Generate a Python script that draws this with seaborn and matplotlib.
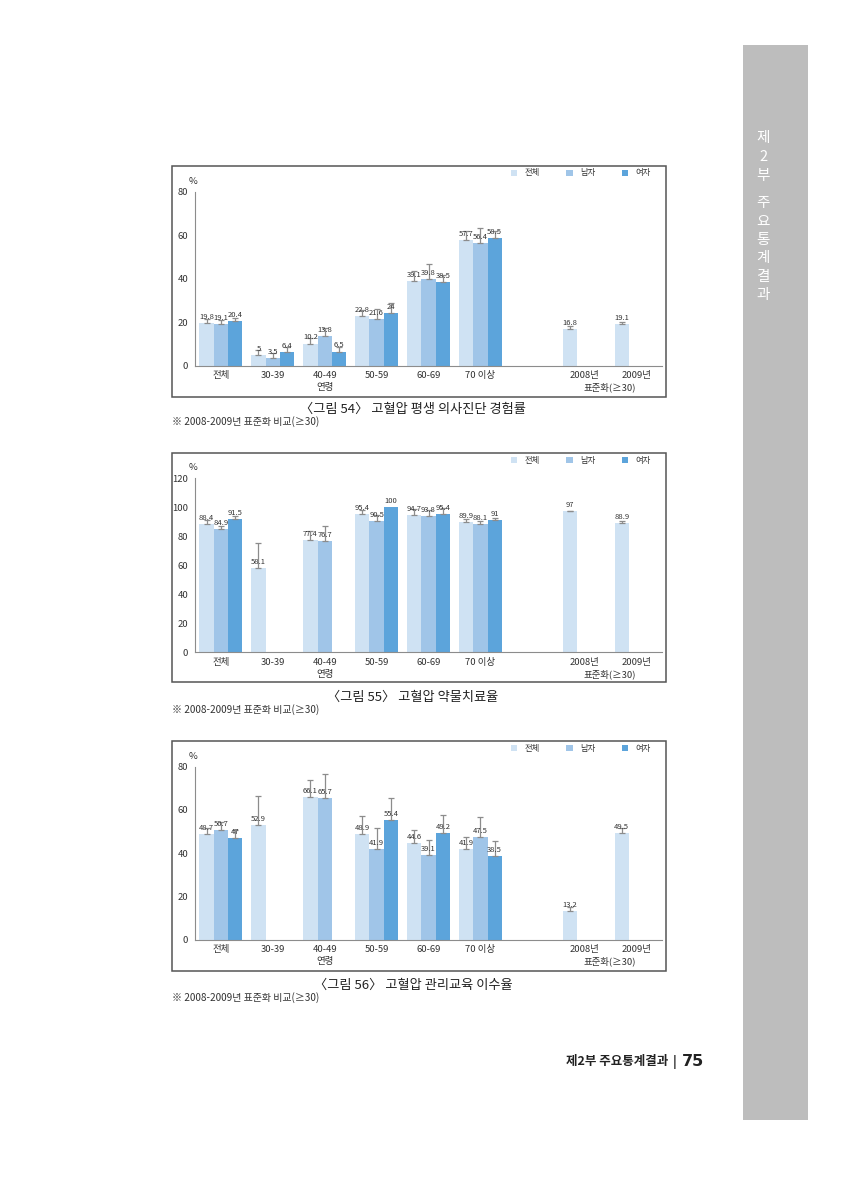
import numpy as np
import pandas as pd
import matplotlib
matplotlib.use("Agg")
import matplotlib.pyplot as plt
import seaborn as sns
from matplotlib.patches import Rectangle

sns.set_theme(style="white")
plt.rcParams["font.family"] = ["Noto Sans CJK KR", "DejaVu Sans"]

# ---------------- data ----------------
groups = ["전체", "30-39", "40-49", "50-59", "60-69", "70 이상", " ", "2008년", "2009년"]
sexes = ["전체", "남자", "여자"]
palette = ["#CFE2F3", "#A0C5E8", "#5CA4DB"]

# 그림 54 고혈압 평생 의사진단 경험률
c54_total = [19.8, 5.0, 10.2, 22.8, 39.1, 57.7, np.nan, 16.8, 19.1]
c54_male = [19.1, 3.5, 13.8, 21.6, 39.8, 56.4, np.nan, np.nan, np.nan]
c54_female = [20.4, 6.4, 6.5, 24.0, 38.5, 58.5, np.nan, np.nan, np.nan]
c54_err_total = [1.5, 2.2, 2.4, 2.8, 4.4, 4.2, np.nan, 1.6, 1.1]
c54_err_male = [1.7, 2.5, 3.4, 4.4, 6.9, 7.0, np.nan, np.nan, np.nan]
c54_err_female = [1.6, 2.3, 2.2, 4.7, 3.2, 3.5, np.nan, np.nan, np.nan]

# 그림 55 고혈압 약물치료율
c55_total = [88.4, 58.1, 77.4, 95.4, 94.7, 89.9, np.nan, 97.0, 88.9]
c55_male = [84.9, np.nan, 76.7, 90.5, 93.8, 88.1, np.nan, np.nan, np.nan]
c55_female = [91.5, np.nan, np.nan, 100.0, 95.4, 91.0, np.nan, np.nan, np.nan]
c55_err_total = [2.6, 17.3, 6.3, 2.3, 3.9, 1.8, np.nan, 0.5, 1.7]
c55_err_male = [2.0, np.nan, 10.2, 4.2, 4.4, 2.5, np.nan, np.nan, np.nan]
c55_err_female = [2.3, np.nan, np.nan, 0.0, 3.9, 1.4, np.nan, np.nan, np.nan]

# 그림 56 고혈압 관리교육 이수율
c56_total = [48.7, 52.9, 66.1, 48.9, 44.6, 41.9, np.nan, 13.2, 49.5]
c56_male = [50.7, np.nan, 65.7, 41.9, 39.1, 47.5, np.nan, np.nan, np.nan]
c56_female = [47.0, np.nan, np.nan, 55.4, 49.2, 38.5, np.nan, np.nan, np.nan]
c56_err_total = [3.0, 13.7, 7.6, 8.4, 6.1, 5.7, np.nan, 2.1, 2.0]
c56_err_male = [3.5, np.nan, 10.9, 9.9, 7.1, 9.2, np.nan, np.nan, np.nan]
c56_err_female = [3.7, np.nan, np.nan, 10.2, 8.3, 7.1, np.nan, np.nan, np.nan]

charts = [
    dict(vals=[c54_total, c54_male, c54_female], errs=[c54_err_total, c54_err_male, c54_err_female],
         ymax=80, yticks=[0, 20, 40, 60, 80],
         caption="〈그림 54〉 고혈압 평생 의사진단 경험률", note="※ 2008-2009년 표준화 비교(≥30)",
         box=(172, 166, 666, 397), ax_top=191.7, ax_bot=365.7, cap_y=409, note_y=422),
    dict(vals=[c55_total, c55_male, c55_female], errs=[c55_err_total, c55_err_male, c55_err_female],
         ymax=120, yticks=[0, 20, 40, 60, 80, 100, 120],
         caption="〈그림 55〉 고혈압 약물치료율", note="※ 2008-2009년 표준화 비교(≥30)",
         box=(172, 453, 666, 682), ax_top=478.0, ax_bot=652.3, cap_y=697, note_y=710),
    dict(vals=[c56_total, c56_male, c56_female], errs=[c56_err_total, c56_err_male, c56_err_female],
         ymax=80, yticks=[0, 20, 40, 60, 80],
         caption="〈그림 56〉 고혈압 관리교육 이수율", note="※ 2008-2009년 표준화 비교(≥30)",
         box=(172, 741, 666, 971), ax_top=766.7, ax_bot=939.7, cap_y=985, note_y=998),
]

W, H = 847, 1200
fig = plt.figure(figsize=(W / 100, H / 100), dpi=100)
fig.patch.set_facecolor("white")

def fx(x):
    return x / W

def fy(y):
    return 1 - y / H

AX_L, AX_R = 195, 662
grey = "#8C8C8C"

for ch in charts:
    rows = []
    for s, vals, errs in zip(sexes, ch["vals"], ch["errs"]):
        for g, v, e in zip(groups, vals, errs):
            if not np.isnan(v):
                rows.append(dict(group=g, sex=s, value=v, err=e))
    df = pd.DataFrame(rows)

    ax = fig.add_axes([fx(AX_L), fy(ch["ax_bot"]), fx(AX_R) - fx(AX_L),
                       (ch["ax_bot"] - ch["ax_top"]) / H])
    sns.barplot(data=df, x="group", y="value", hue="sex", order=groups, hue_order=sexes,
                palette=palette, width=0.83, errorbar=None, saturation=1, ax=ax,
                legend=True, linewidth=0, edgecolor="none")

    bar_conts = list(ax.containers)
    # error bars (upper only) and value labels
    for si, cont in enumerate(bar_conts):
        s = sexes[si]
        sub = df[df.sex == s]
        labels = []
        for bar in cont:
            xc = bar.get_x() + bar.get_width() / 2
            gi = int(round(xc))
            row = sub[sub.group == groups[gi]]
            if len(row) == 0:
                labels.append("")
                continue
            v = row.value.iloc[0]
            e = row.err.iloc[0]
            labels.append(f"{v:g}")
            if e > 0:
                ax.errorbar(xc, v, yerr=[[0], [e]], fmt="none", ecolor=grey,
                            elinewidth=0.9, capsize=2.2, capthick=0.9, zorder=3)
        ax.bar_label(cont, labels=labels, padding=1.5, fontsize=5.5, color="#333333", zorder=4)

    ax.set_xlim(-0.5, len(groups) - 0.5)
    ax.set_ylim(0, ch["ymax"])
    ax.set_yticks(ch["yticks"])
    ax.set_xlabel("")
    ax.set_ylabel("")
    ax.set_xticks(range(len(groups)))
    ax.set_xticklabels(groups, fontsize=6.8, color="#333333")
    ax.set_xticks(np.arange(-0.5, len(groups)), minor=True)
    ax.tick_params(axis="x", which="major", length=0, pad=4)
    ax.tick_params(axis="x", which="minor", length=4, width=0.8, color=grey, direction="out")
    ax.tick_params(axis="y", length=3, width=0.8, color=grey, direction="out", labelsize=6.8,
                   labelcolor="#333333", pad=2)
    for sp in ["top", "right"]:
        ax.spines[sp].set_visible(False)
    for sp in ["left", "bottom"]:
        ax.spines[sp].set_color(grey)
        ax.spines[sp].set_linewidth(0.8)
    ax.set_facecolor("none")

    ax.annotate("연령", xy=(2, 0), xycoords=("data", "axes fraction"), xytext=(0, -22),
                textcoords="offset pixels", ha="center", va="center", fontsize=6.8, color="#333333")
    ax.annotate("표준화(≥30)", xy=(7.5, 0), xycoords=("data", "axes fraction"), xytext=(0, -22),
                textcoords="offset pixels", ha="center", va="center", fontsize=6.8, color="#333333")
    ax.annotate("%", xy=(0, 1), xycoords="axes fraction", xytext=(-2, 10),
                textcoords="offset pixels", ha="center", va="center", fontsize=6.8, color="#333333")

    # legend
    x0, y0, x1, y1 = ch["box"]
    sns.move_legend(ax, "center right", bbox_to_anchor=(fx(651), fy(y0 + 7)),
                    bbox_transform=fig.transFigure, ncol=3, frameon=False, title=None,
                    fontsize=6, handlelength=0.75, handleheight=0.75, handletextpad=0.9,
                    columnspacing=3.2, borderaxespad=0, borderpad=0)
    for t in ax.get_legend().get_texts():
        t.set_color("#333333")

    # frame box
    fig.patches.append(Rectangle((fx(x0), fy(y1)), fx(x1) - fx(x0), fy(y0) - fy(y1),
                                 transform=fig.transFigure, fill=False, edgecolor="#555555",
                                 linewidth=1.1, zorder=0))
    fig.text(fx(413), fy(ch["cap_y"]), ch["caption"], ha="center", va="center",
             fontsize=9.5, color="#222222")
    fig.text(fx(172), fy(ch["note_y"]), ch["note"], ha="left", va="center",
             fontsize=7.2, color="#333333")

# sidebar
fig.patches.append(Rectangle((fx(743), fy(1120)), fx(808) - fx(743), fy(45) - fy(1120),
                             transform=fig.transFigure, facecolor="#BDBDBD",
                             edgecolor="none", zorder=0))
side_chars = ["제", "2", "부", "주", "요", "통", "계", "결", "과"]
side_y = [138, 157, 176, 203, 222, 240, 258, 277, 295]
for c, yy in zip(side_chars, side_y):
    fig.text(fx(763), fy(yy), c, ha="center", va="center", fontsize=10.5, color="white")

# footer
fig.text(fx(668), fy(1062), "제2부 주요통계결과", ha="right", va="center", fontsize=9,
         fontweight="bold", color="#222222")
fig.text(fx(675), fy(1062), "|", ha="center", va="center", fontsize=9, fontweight="bold",
         color="#222222")
fig.text(fx(682), fy(1062), "75", ha="left", va="center", fontsize=11.5, fontweight="bold",
         color="#222222", family=["DejaVu Sans"])

fig.savefig("out.png", dpi=100, facecolor="white")
